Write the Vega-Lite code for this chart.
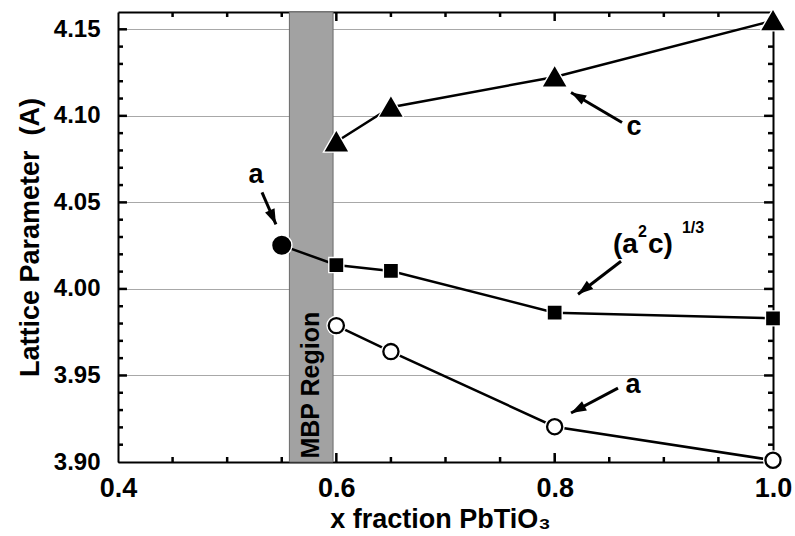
{
  "$schema": "https://vega.github.io/schema/vega-lite/v6.json",
  "width": 655,
  "height": 450,
  "autosize": {"type": "none"},
  "padding": {"left": 118, "top": 12, "right": 22, "bottom": 74},
  "background": "white",
  "config": {
    "view": {"stroke": null},
    "font": "Liberation Sans",
    "axis": {
      "domainColor": "black", "domainWidth": 2,
      "tickColor": "black",
      "labelFont": "Liberation Sans", "labelFontWeight": "bold", "labelColor": "black",
      "titleFont": "Liberation Sans", "titleFontWeight": "bold", "titleColor": "black",
      "gridColor": "#a8a8a8", "gridWidth": 1
    }
  },
  "datasets": {
    "pts": [
      {"s": "c", "m": "tri", "x": 0.6, "y": 4.085},
      {"s": "c", "m": "tri", "x": 0.65, "y": 4.105},
      {"s": "c", "m": "tri", "x": 0.8, "y": 4.1225},
      {"s": "c", "m": "tri", "x": 1.0, "y": 4.155},
      {"s": "v", "m": "dot", "x": 0.55, "y": 4.0252},
      {"s": "v", "m": "sq", "x": 0.6, "y": 4.0138},
      {"s": "v", "m": "sq", "x": 0.65, "y": 4.0104},
      {"s": "v", "m": "sq", "x": 0.8, "y": 3.9863},
      {"s": "v", "m": "sq", "x": 1.0, "y": 3.983},
      {"s": "a", "m": "ring", "x": 0.6, "y": 3.9788},
      {"s": "a", "m": "ring", "x": 0.65, "y": 3.9638},
      {"s": "a", "m": "ring", "x": 0.8, "y": 3.9204},
      {"s": "a", "m": "ring", "x": 1.0, "y": 3.901}
    ],
    "arrows": [
      {"id": "a1", "x": 0.5319, "y": 4.0558, "x2": 0.5447, "y2": 4.0373},
      {"id": "c", "x": 0.8617, "y": 4.0962, "x2": 0.815, "y2": 4.1135},
      {"id": "v", "x": 0.8608, "y": 4.016, "x2": 0.8214, "y2": 3.9969},
      {"id": "a2", "x": 0.858, "y": 3.9427, "x2": 0.815, "y2": 3.9283}
    ],
    "labels": [
      {"t": "a", "x": 0.5264, "y": 4.061},
      {"t": "c", "x": 0.8727, "y": 4.0887},
      {"t": "a", "x": 0.8717, "y": 3.9398},
      {"t": "(a", "x": 0.8534, "y": 4.0206, "a": "left"},
      {"t": "c)", "x": 0.8855, "y": 4.0206, "a": "left"}
    ],
    "xt": [
      {"v": 0.6, "k": "maj"}, {"v": 0.8, "k": "maj"},
      {"v": 0.45, "k": "min"}, {"v": 0.5, "k": "min"}, {"v": 0.55, "k": "min"},
      {"v": 0.65, "k": "min"}, {"v": 0.7, "k": "min"}, {"v": 0.75, "k": "min"},
      {"v": 0.85, "k": "min"}, {"v": 0.9, "k": "min"}, {"v": 0.95, "k": "min"}
    ],
    "yt": [
      {"v": 3.95, "k": "maj"}, {"v": 4.0, "k": "maj"}, {"v": 4.05, "k": "maj"}, {"v": 4.1, "k": "maj"}, {"v": 4.15, "k": "maj"},
      {"v": 3.91, "k": "min"}, {"v": 3.92, "k": "min"}, {"v": 3.93, "k": "min"}, {"v": 3.94, "k": "min"},
      {"v": 3.96, "k": "min"}, {"v": 3.97, "k": "min"}, {"v": 3.98, "k": "min"}, {"v": 3.99, "k": "min"},
      {"v": 4.01, "k": "min"}, {"v": 4.02, "k": "min"}, {"v": 4.03, "k": "min"}, {"v": 4.04, "k": "min"},
      {"v": 4.06, "k": "min"}, {"v": 4.07, "k": "min"}, {"v": 4.08, "k": "min"}, {"v": 4.09, "k": "min"},
      {"v": 4.11, "k": "min"}, {"v": 4.12, "k": "min"}, {"v": 4.13, "k": "min"}, {"v": 4.14, "k": "min"}
    ]
  },
  "layer": [
    {
      "data": {"values": [{"x": 0.557, "x2": 0.597, "y": 3.9, "y2": 4.16}]},
      "mark": {"type": "rect", "fill": "#a2a2a2", "stroke": "#6a6a6a", "strokeWidth": 1},
      "encoding": {
        "x": {"field": "x", "type": "quantitative", "scale": {"domain": [0.4, 1.0], "nice": false, "zero": false}, "axis": null},
        "x2": {"field": "x2"},
        "y": {"field": "y", "type": "quantitative", "scale": {"domain": [3.9, 4.16], "nice": false, "zero": false}, "axis": null},
        "y2": {"field": "y2"}
      }
    },
    {
      "data": {"name": "pts"},
      "mark": {"type": "line", "color": "black", "strokeWidth": 2.5},
      "encoding": {
        "x": {
          "field": "x", "type": "quantitative",
          "scale": {"domain": [0.4, 1.0], "nice": false, "zero": false},
          "axis": {
            "orient": "bottom",
            "values": [0.4, 0.6, 0.8, 1.0],
            "format": ".1f",
            "tickSize": -8,
            "labelPadding": 21, "labelFontSize": 27, "labelFlush": false, "labelOverlap": false,
            "grid": false,
            "title": "x fraction PbTiO₃", "titleFontSize": 27,
            "titleX": 322, "titleY": 65, "titleBaseline": "alphabetic"
          }
        },
        "y": {
          "field": "y", "type": "quantitative",
          "scale": {"domain": [3.9, 4.16], "nice": false, "zero": false},
          "axis": {
            "orient": "left",
            "values": [3.9, 3.95, 4.0, 4.05, 4.1, 4.15],
            "format": ".2f",
            "tickSize": -8,
            "labelPadding": 26, "labelFontSize": 24, "labelFlush": false, "labelOverlap": false,
            "grid": true,
            "gridOpacity": {"condition": {"test": "datum.value>3.91", "value": 1}, "value": 0},
            "title": "Lattice Parameter \u00a0(A)", "titleFontSize": 27,
            "titleX": -88, "titleY": 225, "titleAngle": 270, "titleBaseline": "middle"
          }
        },
        "detail": {"field": "s", "type": "nominal"}
      }
    },
    {
      "data": {"name": "xt"},
      "transform": [{"filter": "datum.k == 'maj'"}],
      "mark": {"type": "rule", "color": "black", "strokeWidth": 2.5},
      "encoding": {
        "x": {"field": "v", "type": "quantitative", "axis": null},
        "y": {"datum": 3.9, "type": "quantitative", "axis": null},
        "y2": {"datum": 3.9052}
      }
    },
    {
      "data": {"name": "xt"},
      "transform": [{"filter": "datum.k == 'min'"}],
      "mark": {"type": "rule", "color": "black", "strokeWidth": 2.5},
      "encoding": {
        "x": {"field": "v", "type": "quantitative", "axis": null},
        "y": {"datum": 3.9, "type": "quantitative", "axis": null},
        "y2": {"datum": 3.9029}
      }
    },
    {
      "data": {"name": "xt"},
      "transform": [{"filter": "datum.k == 'maj'"}],
      "mark": {"type": "rule", "color": "black", "strokeWidth": 2.5},
      "encoding": {
        "x": {"field": "v", "type": "quantitative", "axis": null},
        "y": {"datum": 4.16, "type": "quantitative", "axis": null},
        "y2": {"datum": 4.1548}
      }
    },
    {
      "data": {"name": "xt"},
      "transform": [{"filter": "datum.k == 'min'"}],
      "mark": {"type": "rule", "color": "black", "strokeWidth": 2.5},
      "encoding": {
        "x": {"field": "v", "type": "quantitative", "axis": null},
        "y": {"datum": 4.16, "type": "quantitative", "axis": null},
        "y2": {"datum": 4.1571}
      }
    },
    {
      "data": {"name": "yt"},
      "transform": [{"filter": "datum.k == 'maj'"}],
      "mark": {"type": "rule", "color": "black", "strokeWidth": 2.5},
      "encoding": {
        "y": {"field": "v", "type": "quantitative", "axis": null},
        "x": {"datum": 0.4, "type": "quantitative", "axis": null},
        "x2": {"datum": 0.4082}
      }
    },
    {
      "data": {"name": "yt"},
      "transform": [{"filter": "datum.k == 'min'"}],
      "mark": {"type": "rule", "color": "black", "strokeWidth": 2.5},
      "encoding": {
        "y": {"field": "v", "type": "quantitative", "axis": null},
        "x": {"datum": 0.4, "type": "quantitative", "axis": null},
        "x2": {"datum": 0.4046}
      }
    },
    {
      "data": {"name": "yt"},
      "transform": [{"filter": "datum.k == 'maj'"}],
      "mark": {"type": "rule", "color": "black", "strokeWidth": 2.5},
      "encoding": {
        "y": {"field": "v", "type": "quantitative", "axis": null},
        "x": {"datum": 1.0, "type": "quantitative", "axis": null},
        "x2": {"datum": 0.9918}
      }
    },
    {
      "data": {"name": "yt"},
      "transform": [{"filter": "datum.k == 'min'"}],
      "mark": {"type": "rule", "color": "black", "strokeWidth": 2.5},
      "encoding": {
        "y": {"field": "v", "type": "quantitative", "axis": null},
        "x": {"datum": 1.0, "type": "quantitative", "axis": null},
        "x2": {"datum": 0.9954}
      }
    },
    {
      "data": {"name": "pts"},
      "mark": {"type": "point", "filled": true, "fill": "white", "stroke": "white", "strokeWidth": 5, "opacity": 1},
      "encoding": {
        "x": {"field": "x", "type": "quantitative", "axis": null},
        "y": {"field": "y", "type": "quantitative", "axis": null},
        "shape": {"field": "m", "type": "nominal", "scale": {"domain": ["tri", "dot", "sq", "ring"], "range": ["triangle-up", "circle", "square", "circle"]}, "legend": null},
        "size": {"field": "m", "type": "nominal", "scale": {"type": "ordinal", "domain": ["tri", "dot", "sq", "ring"], "range": [380, 280, 130, 230]}, "legend": null}
      }
    },
    {
      "data": {"name": "pts"},
      "mark": {"type": "point", "filled": true, "stroke": "black", "strokeWidth": 2.3, "opacity": 1},
      "encoding": {
        "x": {
          "field": "x", "type": "quantitative",
          "axis": {"orient": "top", "values": [0.4, 0.6, 0.8, 1.0], "ticks": false, "labels": false, "grid": false, "title": null}
        },
        "y": {
          "field": "y", "type": "quantitative",
          "axis": {"orient": "right", "values": [3.9, 3.95, 4.0, 4.05, 4.1, 4.15], "ticks": false, "labels": false, "grid": false, "title": null}
        },
        "shape": {"field": "m", "type": "nominal", "scale": {"domain": ["tri", "dot", "sq", "ring"], "range": ["triangle-up", "circle", "square", "circle"]}, "legend": null},
        "size": {"field": "m", "type": "nominal", "scale": {"type": "ordinal", "domain": ["tri", "dot", "sq", "ring"], "range": [380, 280, 130, 230]}, "legend": null},
        "fill": {"field": "m", "type": "nominal", "scale": {"domain": ["tri", "dot", "sq", "ring"], "range": ["black", "black", "black", "white"]}, "legend": null}
      }
    },
    {
      "data": {"name": "arrows"},
      "mark": {"type": "rule", "color": "black", "strokeWidth": 3},
      "encoding": {
        "x": {"field": "x", "type": "quantitative", "axis": null},
        "y": {"field": "y", "type": "quantitative", "axis": null},
        "x2": {"field": "x2"},
        "y2": {"field": "y2"}
      }
    },
    {
      "data": {"name": "arrows"},
      "mark": {"type": "point", "shape": "M0,0L-0.65,1.9L0.65,1.9Z", "filled": true, "fill": "black", "strokeWidth": 0, "size": 256, "opacity": 1},
      "encoding": {
        "x": {"field": "x2", "type": "quantitative", "axis": null},
        "y": {"field": "y2", "type": "quantitative", "axis": null},
        "angle": {"field": "id", "type": "nominal", "scale": {"type": "ordinal", "domain": ["a1", "c", "v", "a2"], "range": [156, 300, 232, 242]}, "legend": null}
      }
    },
    {
      "data": {"name": "labels"},
      "transform": [{"filter": "datum.a == null"}],
      "mark": {"type": "text", "font": "Liberation Sans", "fontWeight": "bold", "fontSize": 27, "color": "black", "align": "center", "baseline": "alphabetic"},
      "encoding": {
        "x": {"field": "x", "type": "quantitative", "axis": null},
        "y": {"field": "y", "type": "quantitative", "axis": null},
        "text": {"field": "t"}
      }
    },
    {
      "data": {"name": "labels"},
      "transform": [{"filter": "datum.a == 'left'"}],
      "mark": {"type": "text", "font": "Liberation Sans", "fontWeight": "bold", "fontSize": 28, "color": "black", "align": "left", "baseline": "alphabetic"},
      "encoding": {
        "x": {"field": "x", "type": "quantitative", "axis": null},
        "y": {"field": "y", "type": "quantitative", "axis": null},
        "text": {"field": "t"}
      }
    },
    {
      "data": {"values": [{"t": "2", "x": 0.8763, "y": 4.0298}, {"t": "1/3", "x": 0.9166, "y": 4.0321}]},
      "mark": {"type": "text", "font": "Liberation Sans", "fontWeight": "bold", "fontSize": 16, "color": "black", "align": "left", "baseline": "alphabetic"},
      "encoding": {
        "x": {"field": "x", "type": "quantitative", "axis": null},
        "y": {"field": "y", "type": "quantitative", "axis": null},
        "text": {"field": "t"}
      }
    },
    {
      "data": {"values": [{"t": "MBP Region", "x": 0.5768, "y": 3.9444}]},
      "mark": {"type": "text", "font": "Liberation Sans", "fontWeight": "bold", "fontSize": 25, "color": "black", "align": "center", "baseline": "middle", "angle": 270},
      "encoding": {
        "x": {"field": "x", "type": "quantitative", "axis": null},
        "y": {"field": "y", "type": "quantitative", "axis": null},
        "text": {"field": "t"}
      }
    }
  ],
  "resolve": {"axis": {"x": "independent", "y": "independent"}}
}
